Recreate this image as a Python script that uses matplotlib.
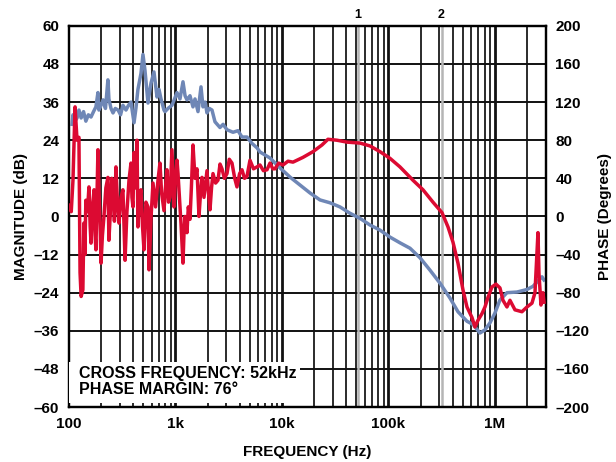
import numpy as np
import matplotlib
matplotlib.use('Agg')
import matplotlib.pyplot as plt
from matplotlib.patches import Rectangle

plt.rcParams['font.family'] = ['Liberation Sans', 'DejaVu Sans']
plt.rcParams['font.weight'] = 'bold'

# magnitude (dB)
mag_freq = [107, 109, 114, 119, 124, 130, 137, 144, 152, 161, 170, 179, 187, 191,
            200, 209, 220, 232, 237, 248, 259, 272, 289, 305, 321, 343, 362, 382,
            408, 425, 444, 474, 495, 517, 552, 570, 589, 628, 671, 700, 731, 780,
            797, 850, 927, 980, 1033, 1102, 1176, 1230, 1282, 1368, 1460, 1525,
            1627, 1736, 1813, 1900, 1976, 2080, 2202, 2349, 2617, 2800, 3045,
            3467, 3862, 4211, 4693, 5229, 5827, 6216, 7715, 9577, 11890, 14760,
            18320, 22740, 28230, 35040, 43510, 54000, 67050, 83220, 103300,
            128200, 159200, 197600, 245300, 304500, 378100, 449400, 545900,
            621400, 723000, 805600, 898000, 1.0e6, 1.114e6, 1.296e6, 1.609e6,
            1.998e6, 2.275e6, 2.763e6, 2.885e6]
mag_db = [29, 32, 30, 31, 33.5, 31, 33, 30, 32, 31.3, 33, 34.5, 39, 33.5,
          35, 36.7, 34, 43, 37, 34, 32.6, 34, 33.5, 32, 35, 33.5, 35, 36,
          29.5, 34, 40, 45, 51, 46, 35.7, 39, 42, 45.5, 37.6, 40, 37, 33.5,
          33, 34, 35, 37, 39, 37, 42.4, 38, 36.7, 38, 34.5, 37,
          33, 40.8, 34.5, 36, 32.6, 34, 33.5, 29.8, 28, 29, 27.3,
          26.5, 27, 25, 25, 23, 21.6, 20.3, 18.4, 15.3, 12.4, 9.9,
          7.4, 5.2, 4.3, 3, 1, -0.6, -2.7, -4.3, -6.5,
          -8.3, -10, -13, -16.9, -21, -25.7, -30, -33,
          -34, -36.7, -35.7, -33.5, -30.4, -26.3, -24, -23.8,
          -23, -22, -19, -20]

# phase (degrees)
ph_freq = [102, 105, 109, 114, 119, 124, 127, 130, 135, 138, 141, 144, 149, 154,
           158, 161, 166, 172, 176, 179, 183, 187, 191, 196, 200, 206, 213, 222,
           232, 237, 246, 252, 259, 267, 276, 285, 295, 308, 321, 329, 336, 350,
           366, 382, 390, 399, 408, 420, 435, 444, 458, 474, 490, 506, 528, 552,
           564, 590, 615, 650, 685, 715, 740, 763, 780, 805, 832, 860, 888,
           927, 968, 1000, 1033, 1056, 1090, 1126, 1176, 1200, 1228, 1282, 1320,
           1368, 1410, 1460, 1525, 1592, 1662, 1720, 1774, 1852, 1976, 2040,
           2109, 2180, 2250, 2380, 2506, 2620, 2733, 2880, 3045, 3200, 3392,
           3600, 3779, 4000, 4211, 4450, 4693, 5006, 5400, 5827, 6216, 6700,
           7231, 7715, 8200, 8597, 9300, 10220, 11400, 12690, 15750, 19550,
           23750, 27030, 32850, 40770, 54000, 67050, 83220, 103300, 128200,
           169800, 210900, 261700, 318000, 362200, 403400, 449400, 500600,
           545900, 608100, 649000, 692400, 755000, 805600, 859900, 937100,
           1.022e6, 1.114e6, 1.189e6, 1.296e6, 1.383e6, 1.541e6, 1.793e6,
           1.998e6, 2.226e6, 2.375e6, 2.534e6, 2.590e6, 2.704e6, 2.823e6, 2.885e6]
ph_deg = [12, 5, 38, 115, 80, 83, -59, -84, -77, -7, -40, 17, 5, 31,
          -10, -28, 10, 28, -20, -35, 20, 70, 28, -10, -49, -20, 0, 30,
          41, -25, 10, 40, 31, -5, 52, 15, -7, 20, 28, -10, -46, 5,
          38, 56, 20, 10, 67, 30, 80, -11, 20, 28, -10, -35, 15, 10,
          -56, 0, 35, 10, 38, 56, 25, 14, 6, 30, 49, 15, 20,
          70, 10, 40, 59, 45, 20, -7, -49, -20, 0, -17, 10,
          -3, 30, 75, 40, 50, 0, 25, 41, 20, 48, 25,
          7, 30, 45, 35, 38, 55, 50, 40, 45, 60, 56,
          40, 31, 45, 49, 40, 42, 59, 50, 52, 54, 48,
          49, 56, 50, 50, 56, 54, 58, 57, 62, 68,
          75, 81, 80, 78, 77, 74, 68, 61, 52,
          38, 28, 15, 4, -11, -27, -49, -77,
          -95, -106, -116, -109, -102, -95, -85, -74,
          -71, -75, -88, -95, -88, -98, -100,
          -95, -91, -80, -17, -60, -93, -80, -90]

mag_ticks = [60, 48, 36, 24, 12, 0, -12, -24, -36, -48, -60]
ph_ticks = [200, 160, 120, 80, 40, 0, -40, -80, -120, -160, -200]
freq_ticks = [100, 1e3, 1e4, 1e5, 1e6]
freq_labels = ['100', '1k', '10k', '100k', '1M']
markers = [(52e3, '1'), (315e3, '2')]

fig = plt.figure(figsize=(6.16, 4.62), dpi=100)
ax = fig.add_axes([0.112, 0.119, 0.774, 0.825])
ax.set_xscale('log')
ax.set_xlim(100, 3e6)
ax.set_ylim(-60, 60)

# grid: decades heavier than the minor lines
for dec in [100, 1e3, 1e4, 1e5, 1e6]:
    for k in range(1, 10):
        f = dec * k
        if f <= 100 or f >= 3e6:
            continue
        ax.axvline(f, color='#111111', lw=2.0 if k == 1 else 1.25, zorder=1)
for v in mag_ticks[1:-1]:
    ax.axhline(v, color='#111111', lw=1.4, zorder=1)

for f, lab in markers:
    ax.axvline(f, color='#b5b5b5', lw=1.8, zorder=1.5)
    ax.text(f, 61.5, lab, ha='center', va='bottom', fontsize=9, fontweight='bold')

ax.plot(mag_freq, mag_db, color='#6f87b6', lw=2.5, zorder=3)

ax.set_xticks(freq_ticks)
ax.set_xticklabels(freq_labels)
ax.xaxis.set_minor_locator(matplotlib.ticker.NullLocator())
ax.set_yticks(mag_ticks)
ax.set_yticklabels([str(t).replace('-', '\u2013') for t in mag_ticks])
ax.tick_params(length=0, labelsize=11, pad=7)
ax.set_xlabel('FREQUENCY (Hz)', fontsize=11, fontweight='bold', labelpad=10)
ax.set_ylabel('MAGNITUDE (dB)', fontsize=11, fontweight='bold', labelpad=4)
for s in ax.spines.values():
    s.set_linewidth(1.6)

ax2 = ax.twinx()
ax2.set_ylim(-200, 200)
ax2.plot(ph_freq, ph_deg, color='#dc0a32', lw=2.5, zorder=3)
ax2.set_yticks(ph_ticks)
ax2.set_yticklabels([str(t).replace('-', '\u2013') for t in ph_ticks])
ax2.tick_params(length=0, labelsize=11, pad=7)
ax2.set_ylabel('PHASE (Degrees)', fontsize=11, fontweight='bold', labelpad=6)
for s in ax2.spines.values():
    s.set_linewidth(1.6)

ax2.add_patch(Rectangle((0, 0.011), 0.484, 0.106, transform=ax2.transAxes,
                        facecolor='white', edgecolor='none', zorder=4))
ax2.text(0.02, 0.107, 'CROSS FREQUENCY: 52kHz\nPHASE MARGIN: 76\u00b0',
         transform=ax2.transAxes, ha='left', va='top', fontsize=11.5,
         fontweight='bold', linespacing=1.08, zorder=5)

fig.savefig('out.png', dpi=100)
